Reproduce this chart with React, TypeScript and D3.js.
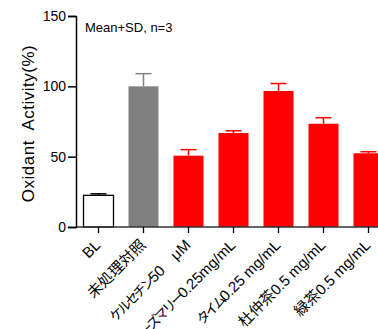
import React, { useEffect, useRef } from 'react';
import * as d3 from 'd3';

// categories and values
const categories = [
  'BL',
  '未処理対照',
  'ケルセチン50　μM',
  'ローズマリー0.25mg/mL',
  'タイム0.25 mg/mL',
  '杜仲茶0.5 mg/mL',
  '緑茶0.5 mg/mL',
];
const means = [22.5, 100, 50.7, 66.8, 96.7, 73.4, 52.4];
const sds = [1.1, 9, 4.3, 1.6, 5.3, 4.3, 1.1];
const fills = ['#ffffff', '#808080', '#ff0000', '#ff0000', '#ff0000', '#ff0000', '#ff0000'];
const errColors = ['#000000', '#808080', '#ff0000', '#ff0000', '#ff0000', '#ff0000', '#ff0000'];
const yTicks = [0, 50, 100, 150];

const W = 378;
const H = 329;
const FONT = '"Liberation Sans", Arial, "Noto Sans CJK JP", sans-serif';

// the reference draws katakana with a proportional (narrow) face
const kanaRuns = (s: string) => s.split(/([\u30A0-\u30FF]+)/).filter(t => t.length > 0);

const App: React.FC = () => {
  const svgRef = useRef<SVGSVGElement>(null);

  useEffect(() => {
    if (!svgRef.current) return;
    const svg = d3.select(svgRef.current);
    svg.selectAll('*').remove();

    const axisX = 76;
    const y0 = 227;

    const x = d3.scaleBand<string>()
      .domain(categories)
      .range([axisX, axisX + 315])
      .paddingInner(1 / 3)
      .paddingOuter(1 / 6);

    const y = d3.scaleLinear().domain([0, 150]).range([y0, 16]);

    // bars
    svg.append('g')
      .selectAll('rect')
      .data(categories)
      .join('rect')
      .attr('x', d => x(d)!)
      .attr('y', (d, i) => y(means[i]))
      .attr('width', x.bandwidth())
      .attr('height', (d, i) => y0 - y(means[i]))
      .attr('fill', (d, i) => fills[i])
      .attr('stroke', (d, i) => (i === 0 ? '#000' : 'none'))
      .attr('stroke-width', 1.3);

    // error bars (upper only)
    const err = svg.append('g');
    categories.forEach((c, i) => {
      const cx = x(c)! + x.bandwidth() / 2;
      const top = y(means[i] + sds[i]);
      err.append('line')
        .attr('x1', cx).attr('x2', cx)
        .attr('y1', y(means[i])).attr('y2', top)
        .attr('stroke', errColors[i]).attr('stroke-width', 1.5);
      err.append('line')
        .attr('x1', cx - 8).attr('x2', cx + 8)
        .attr('y1', top).attr('y2', top)
        .attr('stroke', errColors[i]).attr('stroke-width', 1.5);
    });

    // x axis
    const xg = svg.append('g').attr('transform', `translate(0,${y0})`);
    xg.append('line')
      .attr('x1', axisX).attr('x2', W)
      .attr('stroke', '#333').attr('stroke-width', 1.5);
    categories.forEach(c => {
      const cx = x(c)! + x.bandwidth() / 2;
      xg.append('line')
        .attr('x1', cx).attr('x2', cx)
        .attr('y1', 0).attr('y2', 6)
        .attr('stroke', '#000').attr('stroke-width', 1.3);
      const t = xg.append('text')
        .attr('transform', `translate(${cx + 3},${19}) rotate(-45)`)
        .attr('text-anchor', 'end')
        .attr('font-family', FONT)
        .attr('font-size', 15)
        .attr('fill', '#000')
        .style('white-space', 'pre');
      kanaRuns(c).forEach(run => {
        const isKana = /[\u30A0-\u30FF]/.test(run);
        const sp = t.append('tspan').text(run);
        if (isKana) sp.attr('font-size', 13.5).attr('letter-spacing', -2.5);
      });
    });

    // y axis
    svg.append('g')
      .attr('transform', `translate(${axisX},0)`)
      .call(d3.axisLeft(y).tickValues(yTicks).tickSize(8).tickPadding(2))
      .call(g => g.select('.domain').attr('stroke', '#000').attr('stroke-width', 1.5))
      .call(g => g.selectAll('.tick line').attr('stroke', '#000').attr('stroke-width', 1.5))
      .call(g => g.selectAll('.tick text')
        .attr('font-family', FONT)
        .attr('font-size', 14)
        .attr('fill', '#000'));

    // y label
    svg.append('text')
      .attr('transform', `translate(34,${(16 + y0) / 2 + 2}) rotate(-90)`)
      .attr('text-anchor', 'middle')
      .attr('font-family', FONT)
      .attr('font-size', 17)
      .attr('letter-spacing', 0.5)
      .attr('fill', '#000')
      .style('white-space', 'pre')
      .text('Oxidant  Activity(%)');

    // annotation
    svg.append('text')
      .attr('x', 85)
      .attr('y', 32)
      .attr('font-family', FONT)
      .attr('font-size', 13)
      .attr('fill', '#000')
      .text('Mean+SD, n=3');
  }, []);

  return (
    <svg
      ref={svgRef}
      width={W}
      height={H}
      style={{ position: 'absolute', left: 0, top: 0, background: '#fff' }}
    />
  );
};

export default App;
